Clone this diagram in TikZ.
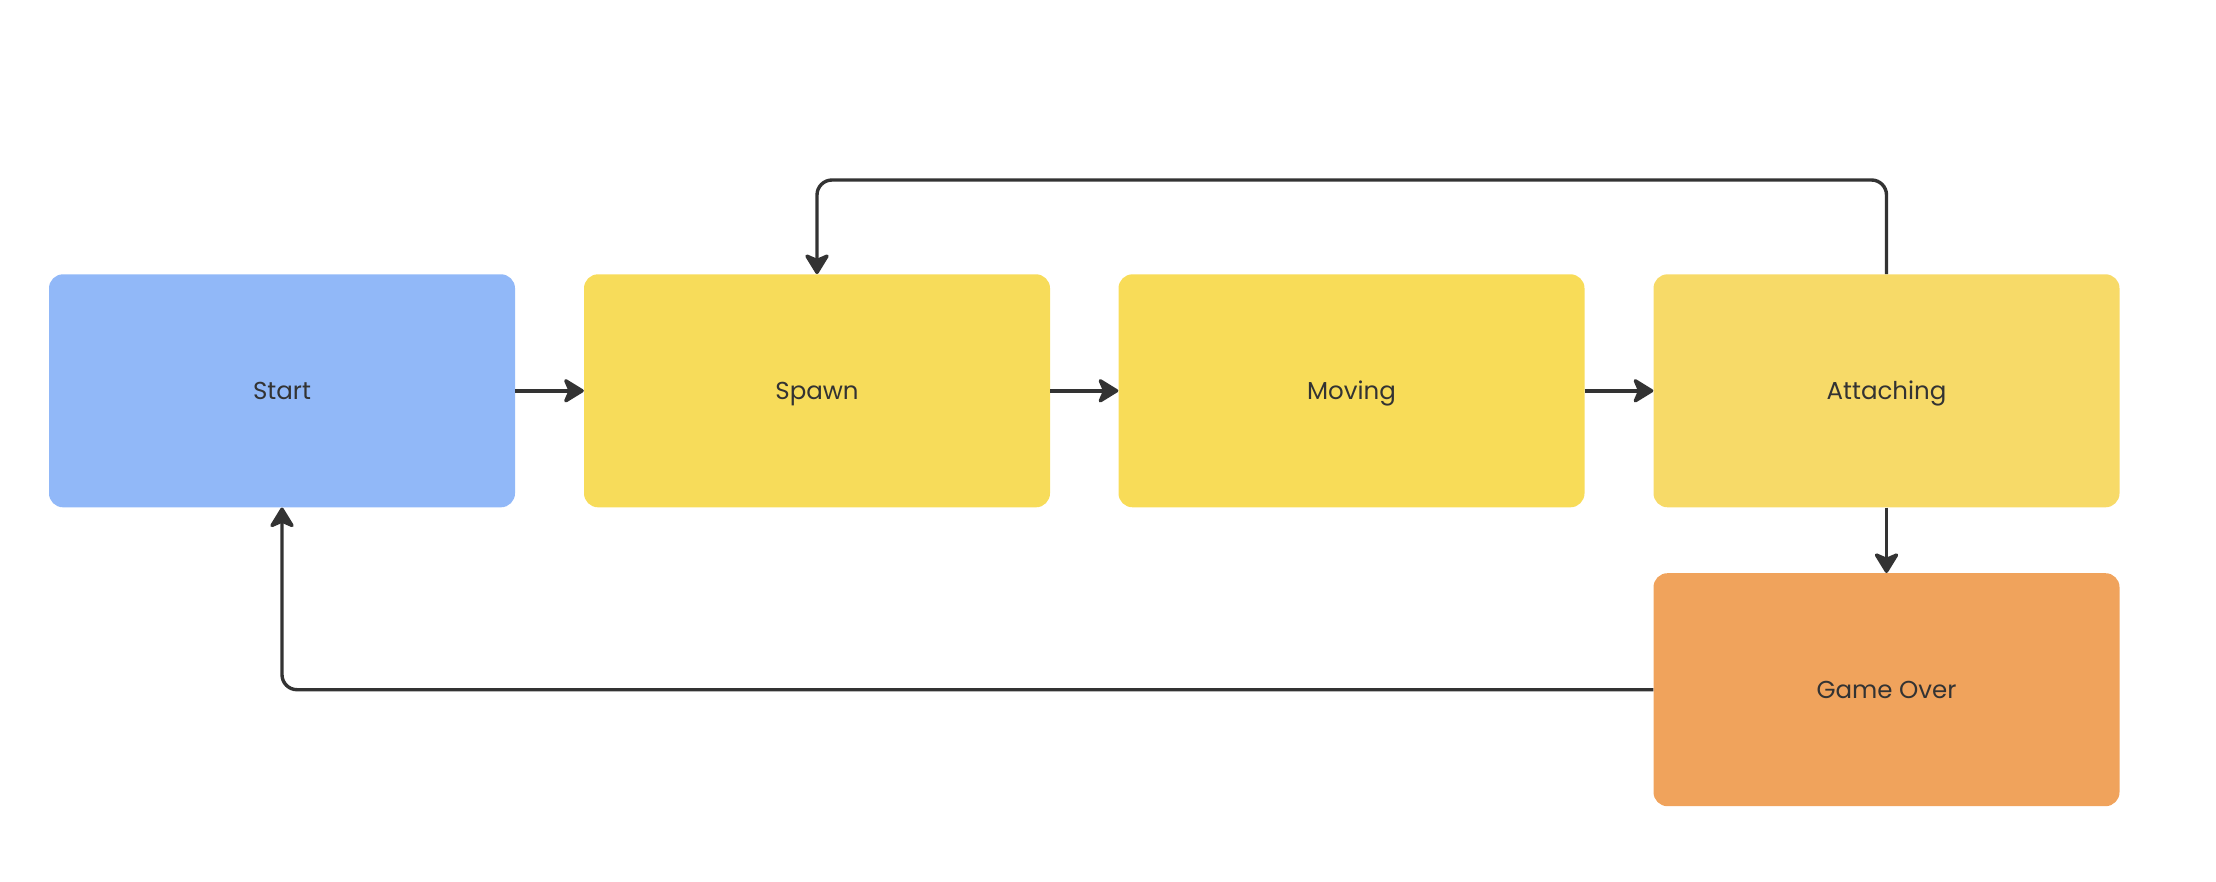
\documentclass[tikz,border=0pt]{standalone}
\usepackage{fontspec}
\setmainfont{Poppins}
\usetikzlibrary{arrows.meta}
\definecolor{cstart}{HTML}{91B8F8}
\definecolor{cspawn}{HTML}{F7DC5A}
\definecolor{cmoving}{HTML}{F8DC58}
\definecolor{cattach}{HTML}{F7DA68}
\definecolor{cover}{HTML}{F0A35C}
\definecolor{cline}{HTML}{333333}
\tikzset{
  box/.style={rectangle, rounded corners=14pt, minimum width=466pt, minimum height=233pt,
    inner sep=0pt, text=cline, font=\fontsize{24.5}{28}\selectfont,
    text height=17pt, text depth=0pt},
  conn/.style={draw=cline, line width=3.4pt, rounded corners=15pt,
    -{Stealth[length=23pt,width=28pt,inset=6pt,round]}}
}
\begin{document}
\begin{tikzpicture}[x=1pt,y=-1pt]
\useasboundingbox (0,0) rectangle (2216,882);
\node[box, fill=cstart] (start) at (282,390.8) {Start};
\node[box, fill=cspawn] (spawn) at (817,390.8) {Spawn};
\node[box, fill=cmoving] (moving) at (1351.5,390.8) {Moving};
\node[box, fill=cattach] (attach) at (1886.5,390.8) {Attaching};
\node[box, fill=cover] (over) at (1886.5,689.7) {Game Over};
\coordinate (top) at (1200,180);
\draw[conn] (start) -- (spawn);
\draw[conn] (spawn) -- (moving);
\draw[conn] (moving) -- (attach);
\draw[conn] (attach) -- (over);
\draw[conn] (attach.north) |- (top) -| (spawn.north);
\draw[conn] (over.west) -- (over.west -| start.south) -- (start.south);
\end{tikzpicture}
\end{document}
